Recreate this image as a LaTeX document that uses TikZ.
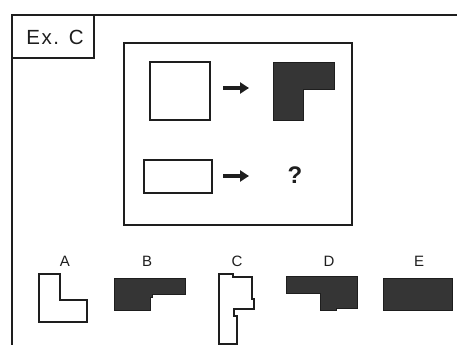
\documentclass[tikz,border=0pt]{standalone}
\usepackage{fontspec}
\setmainfont{Liberation Sans}
\usetikzlibrary{arrows.meta}
\definecolor{ink}{HTML}{1E1E1E}
\definecolor{solid}{HTML}{353535}
\begin{document}
\begin{tikzpicture}[x=1pt,y=-1pt,
  frame/.style={draw=ink,line width=1.7pt},
  outline/.style={draw=ink,line width=1.7pt,fill=white},
  solidshape/.style={draw=ink,line width=1pt,fill=solid},
  label/.style={font=\fontsize{15}{15}\selectfont,text=ink,inner sep=0pt,anchor=base},
  bigarrow/.style={draw=ink,line width=3.2pt,-{Triangle[length=9pt,width=11pt]}}]
\useasboundingbox (0,0) rectangle (457,345);
\fill[white] (0,0) rectangle (457,345);

% outer frame and the example tab
\draw[frame] (457,15) -- (12,15) -- (12,345);
\draw[frame] (12,58) -- (94,58) -- (94,15);
\node[font=\fontsize{20.5}{20.5}\selectfont\addfontfeature{LetterSpace=8},text=ink,inner sep=0pt,anchor=base] (tab) at (55,45) {Ex. C};

% question panel
\draw[frame,line width=1.9pt] (124,43) rectangle (352,225);
\draw[outline] (150,62) rectangle (210,120);
\coordinate (a1s) at (223,88);
\coordinate (a1e) at (249,88);
\draw[bigarrow] (a1s) -- (a1e);
\draw[solidshape] (273,62) -- (334,62) -- (334,89) -- (303,89) -- (303,120) -- (273,120) -- cycle;

\draw[outline] (144,160) rectangle (212,193);
\coordinate (a2s) at (223,176);
\coordinate (a2e) at (249,176);
\draw[bigarrow] (a2s) -- (a2e);
\node[font=\fontsize{24}{24}\selectfont\bfseries,text=ink,inner sep=0pt,anchor=base] (q) at (295,183) {?};

% answer choices
\node[label] (la) at (65,266) {A};
\node[label] (lb) at (147,266) {B};
\node[label] (lc) at (237,266) {C};
\node[label] (ld) at (329,266) {D};
\node[label] (le) at (419,266) {E};

\draw[outline] (39,274) -- (60,274) -- (60,300) -- (87,300) -- (87,322) -- (39,322) -- cycle;
\draw[solidshape] (114,278) -- (185,278) -- (185,294) -- (152,294) -- (152,297) -- (150,297) -- (150,310) -- (114,310) -- cycle;
\draw[outline] (219,274) -- (233,274) -- (233,277) -- (252,277) -- (252,299) -- (254,299) -- (254,309) -- (234,309) -- (234,316) -- (237,316) -- (237,344) -- (219,344) -- cycle;
\draw[solidshape] (286,276) -- (357,276) -- (357,308) -- (336,308) -- (336,310) -- (320,310) -- (320,293) -- (286,293) -- cycle;
\draw[solidshape] (383,278) rectangle (452,310);
\end{tikzpicture}
\end{document}
